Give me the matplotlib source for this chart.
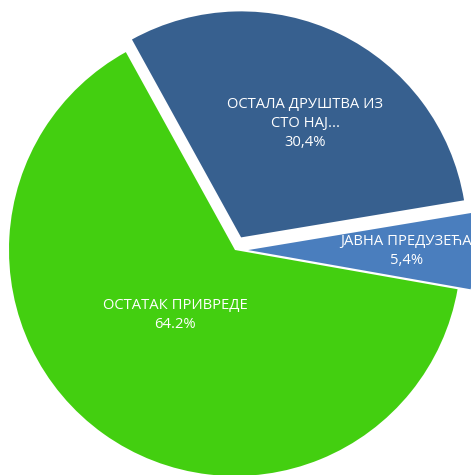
import matplotlib
matplotlib.use("Agg")
import numpy as np
import matplotlib.pyplot as plt

# slices, in the order they run counterclockwise from the right side
labels = ["ЈАВНА ПРЕДУЗЕЋА", "ОСТАЛА ДРУШТВА ИЗ\nСТО НАЈ...", "ОСТАТАК ПРИВРЕДЕ"]
shares = [5.4, 30.4, 64.2]
pct_text = ["5,4%", "30,4%", "64.2%"]
colors = ["#4A7EBE", "#37608F", "#43CF10"]
explode = [0.058, 0.062, 0.0]

plt.rcParams['font.family'] = ['Open Sans', 'DejaVu Sans']

fig = plt.figure(figsize=(4.71, 4.75), dpi=100)
ax = fig.add_axes([0, 0, 1, 1])

# work in pixel units so the pie sits where it does in the original
cx, cy, R = 235, 475 - 250, 226
# pie's explode is in data units, so scale by the radius
wedges, _ = ax.pie(shares, colors=colors, explode=[e * R for e in explode],
                   startangle=-10, counterclock=True, radius=R, center=(cx, cy),
                   wedgeprops=dict(linewidth=0))

# label placement: fraction of radius and angle tweak for each slice
label_r = [0.70, 0.578, 0.39]
label_dang = [-0.2, -3.6, -7.0]
for w, lab, pct, fr, da in zip(wedges, labels, pct_text, label_r, label_dang):
    mid = np.deg2rad((w.theta1 + w.theta2) / 2)
    ox, oy = w.center
    ang = mid + np.deg2rad(da)
    x = ox + fr * R * np.cos(ang)
    y = oy + fr * R * np.sin(ang)
    ax.text(x, y, lab + "\n" + pct, ha="center", va="center", color="white",
            fontsize=10.6, linespacing=1.35)

ax.set_xlim(0, 471)
ax.set_ylim(0, 475)
ax.set_aspect("equal")
ax.axis("off")

fig.savefig("out.png", dpi=100)
